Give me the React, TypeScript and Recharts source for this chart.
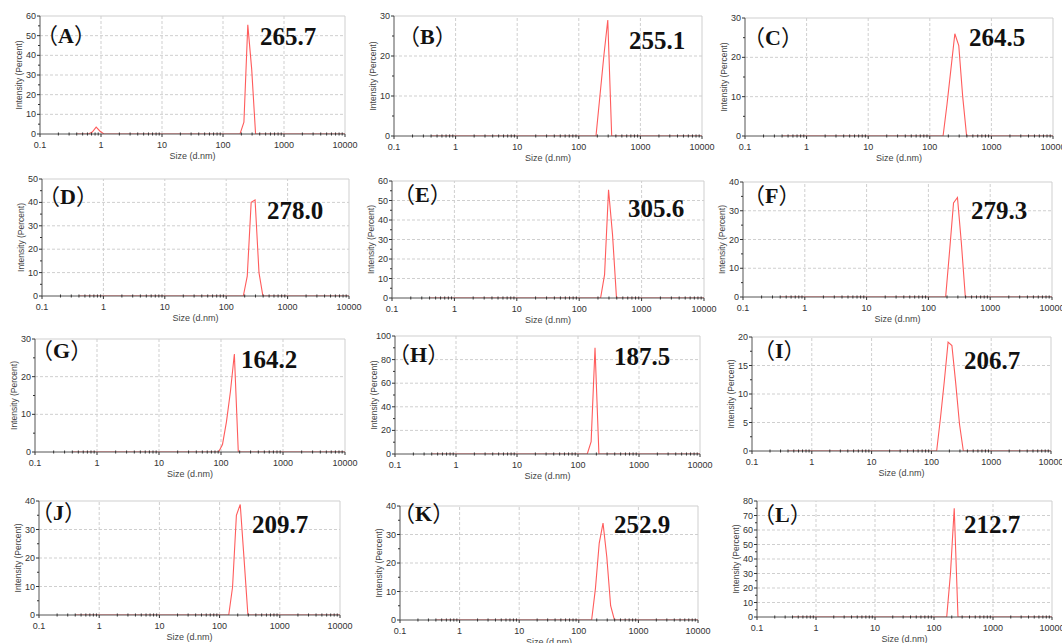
import { LineChart, Line, XAxis, YAxis, ReferenceLine } from "recharts";

// size bins (d.nm) and intensity (%)
const sizeA = [0.4, 0.6213, 0.7195, 0.8332, 0.9649, 1.117, 190.1, 220.2, 255.0, 295.3, 342.0, 10000];
const intA = [0, 0, 1, 3.5, 1.4, 0, 0, 6, 55.5, 33, 0, 0];
const sizeB = [0.4, 190.1, 220.2, 255.0, 295.3, 342.0, 10000];
const intB = [0, 0, 10, 20, 29, 0, 0];
const sizeC = [0.4, 164.2, 190.1, 220.2, 255.0, 295.3, 342.0, 396.1, 10000];
const intC = [0, 0, 8, 17, 26, 23, 10, 0, 0];
const sizeD = [0.4, 190.1, 220.2, 255.0, 295.3, 342.0, 396.1, 10000];
const intD = [0, 0, 8.5, 40, 41, 10, 0, 0];
const sizeE = [0.4, 220.2, 255.0, 295.3, 342.0, 396.1, 10000];
const intE = [0, 0, 12, 55.5, 32.5, 0, 0];
const sizeF = [0.4, 190.1, 220.2, 255.0, 295.3, 342.0, 396.1, 10000];
const intF = [0, 0, 16, 32.7, 34.6, 18.6, 0, 0];
const sizeG = [0.4, 91.28, 105.7, 122.4, 141.8, 164.2, 190.1, 10000];
const intG = [0, 0, 2, 8, 16, 26, 0, 0];
const sizeH = [0.4, 141.8, 164.2, 190.1, 220.2, 10000];
const intH = [0, 0, 10.5, 90, 0, 0];
const sizeI = [0.4, 122.4, 141.8, 164.2, 190.1, 220.2, 255.0, 295.3, 342.0, 10000];
const intI = [0, 0, 5.8, 12.2, 19.1, 18.5, 11.9, 4.7, 0, 0];
const sizeJ = [0.4, 141.8, 164.2, 190.1, 220.2, 255.0, 295.3, 10000];
const intJ = [0, 0, 9.8, 35, 38.8, 19.6, 0, 0];
const sizeK = [0.4, 164.2, 190.1, 220.2, 255.0, 295.3, 342.0, 396.1, 10000];
const intK = [0, 0, 11, 27, 34, 22, 5, 0, 0];
const sizeL = [0.4, 164.2, 190.1, 220.2, 255.0, 10000];
const intL = [0, 0, 30, 75, 0, 0];

const letters = ["A", "B", "C", "D", "E", "F", "G", "H", "I", "J", "K", "L"];
const peakLabels = ["265.7", "255.1", "264.5", "278.0", "305.6", "279.3", "164.2", "187.5", "206.7", "209.7", "252.9", "212.7"];

const xMajor = [0.1, 1, 10, 100, 1000, 10000];
const xMinor = xMajor.slice(0, -1).flatMap((m) => [2, 3, 4, 5, 6, 7, 8, 9].map((k) => +(m * k).toPrecision(2)));
const xAll = [...xMajor, ...xMinor].sort((a, b) => a - b);

const yTicks60 = [0, 10, 20, 30, 40, 50, 60];
const yTicks50 = [0, 10, 20, 30, 40, 50];
const yTicks40 = [0, 10, 20, 30, 40];
const yTicks30 = [0, 10, 20, 30];
const yTicks20 = [0, 5, 10, 15, 20];
const yTicks80 = [0, 10, 20, 30, 40, 50, 60, 70, 80];
const yTicks100 = [0, 20, 40, 60, 80, 100];

const series = [
  [sizeA, intA], [sizeB, intB], [sizeC, intC],
  [sizeD, intD], [sizeE, intE], [sizeF, intF],
  [sizeG, intG], [sizeH, intH], [sizeI, intI],
  [sizeJ, intJ], [sizeK, intK], [sizeL, intL],
];
const yTickSets = [
  yTicks60, yTicks30, yTicks30,
  yTicks50, yTicks60, yTicks40,
  yTicks30, yTicks100, yTicks20,
  yTicks40, yTicks40, yTicks80,
];

// plot rectangles [left, top, right, bottom] and label anchors [lx, ly, nx, ny]
const plots = [
  [40, 16, 345, 134], [394, 16, 702, 136], [745, 18, 1053, 136],
  [42, 179, 349, 296], [392, 181, 704, 298], [743, 182, 1052, 297],
  [35, 339, 345, 452], [395, 336, 700, 454], [752, 337, 1051, 451],
  [39, 501, 340, 615], [400, 506, 698, 620], [757, 501, 1052, 617],
];
const labelPos = [
  [48, 43, 260, 45], [410, 44, 629, 49], [755, 45, 969, 46],
  [50, 204, 267, 219], [405, 202, 628, 217], [755, 203, 971, 219],
  [43, 358, 241, 368], [400, 362, 614, 365], [765, 358, 964, 369],
  [43, 520, 252, 533], [405, 521, 614, 533], [765, 522, 964, 533],
];

const YW = 30;
const XH = 28;
const MT = 6;
const MR = 18;
const AXIS = "#555";
const GRID = "#cfcfcf";
const TICK_FONT = "'Liberation Sans', Arial, sans-serif";
const SERIF = "'Times New Roman', 'Liberation Serif', serif";
const CJK = "'Noto Sans CJK SC', sans-serif";

function XTick({ x, y, payload }: any) {
  const v = payload.value;
  if (!xMajor.includes(v))
    return <line x1={x} x2={x} y1={y - 1.5} y2={y + 1.5} stroke="#333" strokeWidth={1} />;
  return (
    <g>
      <line x1={x} x2={x} y1={y} y2={y + 3} stroke="#333" />
      <text x={x} y={y + 14} textAnchor="middle" fontSize={9} fontFamily={TICK_FONT} fill="#333">
        {String(v)}
      </text>
    </g>
  );
}

function YTick({ x, y, payload, majors }: any) {
  const v = payload.value;
  if (!majors.includes(v))
    return <line x1={x - 2} x2={x} y1={y} y2={y} stroke="#333" />;
  return (
    <g>
      <line x1={x - 3} x2={x} y1={y} y2={y} stroke="#333" />
      <text x={x - 4} y={y + 3} textAnchor="end" fontSize={9} fontFamily={TICK_FONT} fill="#333">
        {String(v)}
      </text>
    </g>
  );
}

function Panel({ idx }: { idx: number }) {
  const [l, t, r, b] = plots[idx];
  const [sizes, ints] = series[idx];
  const data = sizes.map((s, i) => ({ size: s, intensity: ints[i] }));
  const yMaj = yTickSets[idx];
  const step = yMaj[1] - yMaj[0];
  const yAll = yMaj.flatMap((v, i) => (i < yMaj.length - 1 ? [v, v + step / 2] : [v]));
  const yMax = yMaj[yMaj.length - 1];

  return (
    <div style={{ position: "absolute", left: l - YW, top: t - MT }}>
      <LineChart
        width={r - l + YW + MR}
        height={b - t + MT + XH}
        data={data}
        margin={{ top: MT, right: MR, bottom: 0, left: 0 }}
      >
        {xMajor.slice(1).map((v) => (
          <ReferenceLine
            key={"x" + v}
            x={v}
            stroke={GRID}
            strokeDasharray={v === 10000 ? undefined : "3 2"}
          />
        ))}
        {yMaj.slice(1).map((v) => (
          <ReferenceLine
            key={"y" + v}
            y={v}
            stroke={GRID}
            strokeDasharray={v === yMax ? undefined : "3 2"}
          />
        ))}
        <XAxis
          dataKey="size"
          type="number"
          scale="log"
          domain={[0.1, 10000]}
          allowDataOverflow
          ticks={xAll}
          interval={0}
          tickSize={0}
          tickMargin={0}
          tickLine={false}
          height={XH}
          stroke={AXIS}
          tick={(p: any) => <XTick {...p} />}
        />
        <YAxis
          type="number"
          domain={[0, yMax]}
          allowDataOverflow
          ticks={yAll}
          interval={0}
          tickSize={0}
          tickMargin={0}
          tickLine={false}
          width={YW}
          stroke={AXIS}
          tick={(p: any) => <YTick {...p} majors={yMaj} />}
        />
        <Line
          type="linear"
          dataKey="intensity"
          stroke="#ff5c5c"
          strokeWidth={1.1}
          dot={false}
          isAnimationActive={false}
        />
      </LineChart>
    </div>
  );
}

export default function App() {
  return (
    <div
      style={{
        position: "absolute",
        left: 0,
        top: 0,
        width: 1062,
        height: 643,
        background: "#fff",
        overflow: "hidden",
      }}
    >
      {letters.map((_, i) => (
        <Panel key={i} idx={i} />
      ))}
      <svg
        width={1062}
        height={643}
        style={{ position: "absolute", left: 0, top: 0, pointerEvents: "none" }}
      >
        {letters.map((letter, i) => {
          const [l, t, r, b] = plots[i];
          const [lx, ly, nx, ny] = labelPos[i];
          const cy = (t + b) / 2;
          return (
            <g key={letter}>
              <text x={lx - 12} y={ly} fontSize={22} fontWeight="bold" fontFamily={SERIF} fill="#111">
                <tspan fontFamily={CJK} fontWeight="normal">（</tspan>
                {letter}
                <tspan fontFamily={CJK} fontWeight="normal">）</tspan>
              </text>
              <text x={nx} y={ny} fontSize={25} fontWeight="bold" fontFamily={SERIF} fill="#111">
                {peakLabels[i]}
              </text>
              <text
                x={l - 20}
                y={cy}
                transform={`rotate(-90 ${l - 20} ${cy})`}
                textAnchor="middle"
                dominantBaseline="middle"
                fontSize={8.5}
                fontFamily={TICK_FONT}
                fill="#444"
              >
                Intensity (Percent)
              </text>
              <text
                x={(l + r) / 2}
                y={b + 25}
                textAnchor="middle"
                fontSize={9}
                fontFamily={TICK_FONT}
                fill="#444"
              >
                Size (d.nm)
              </text>
            </g>
          );
        })}
      </svg>
    </div>
  );
}
